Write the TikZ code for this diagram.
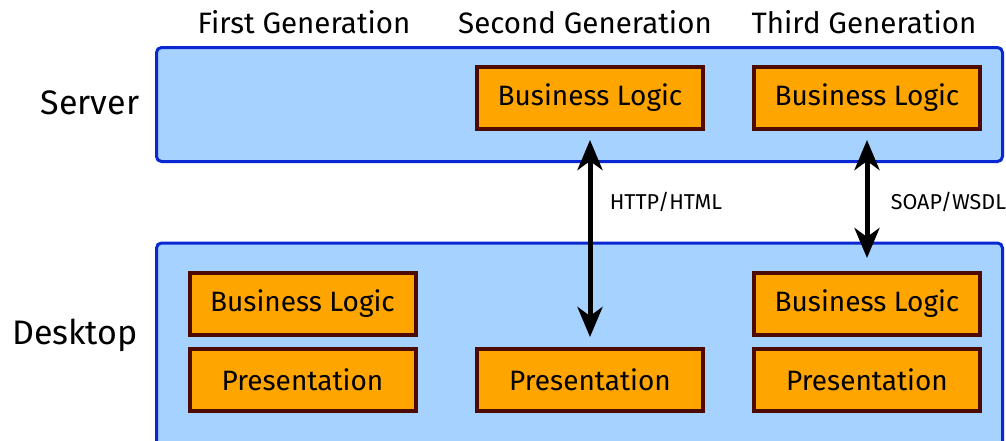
\documentclass[tikz,border=0pt]{standalone}
\usepackage{fontspec}
\setmainfont{Fira Sans}
\usetikzlibrary{arrows.meta, positioning}
\definecolor{layerfill}{HTML}{A6D2FF}
\definecolor{layerdraw}{HTML}{0A28D2}
\definecolor{blockfill}{HTML}{FFA500}
\definecolor{blockdraw}{HTML}{4D0A00}
\tikzstyle{layer} = [rectangle, rounded corners=5pt, line width=3pt, draw=layerdraw, fill=layerfill, minimum width=846pt]
\tikzstyle{block} = [rectangle, line width=4pt, draw=blockdraw, fill=blockfill, minimum width=226pt, minimum height=62pt, font=\fontsize{28}{32}\selectfont]
\tikzstyle{title} = [font=\fontsize{29.5}{34}\selectfont]
\tikzstyle{side} = [font=\fontsize{34}{40}\selectfont]
\tikzstyle{proto} = [font=\fontsize{21.5}{26}\selectfont, anchor=west]
\tikzstyle{arrow} = [line width=5pt, {Stealth[length=30pt,width=25pt,inset=9pt]}-{Stealth[length=30pt,width=25pt,inset=9pt]}]

\begin{document}
\begin{tikzpicture}[x=1pt, y=1pt]
		\useasboundingbox (0,0) rectangle (1006,-440);
		\clip (0,0) rectangle (1006,-440);
		% layers
		\node (Server) [layer, minimum height=114pt] at (579.5,-104.5) {};
		\node (Desktop) [layer, minimum height=240pt] at (579.5,-363) {};
		\node (ServerLabel) [side] at (90,-103) {Server};
		\node (DesktopLabel) [side] at (75,-335) {Desktop};
		% generations
		\node (FirstGen) [title] at (304,-22) {First Generation};
		\node (SecondGen) [title] at (585,-22) {Second Generation};
		\node (ThirdGen) [title] at (864,-22) {Third Generation};
		% server blocks
		\node (ServerLogicTwo) [block] at (590,-98) {Business Logic};
		\node (ServerLogicThree) [block] at (867,-98) {Business Logic};
		% desktop blocks
		\node (DesktopLogicOne) [block] at (302.5,-304) {Business Logic};
		\node (DesktopPresentationOne) [block, below = 10pt of DesktopLogicOne] {Presentation};
		\node (DesktopPresentationTwo) [block] at (590,-380) {Presentation};
		\node (DesktopLogicThree) [block] at (867,-304) {Business Logic};
		\node (DesktopPresentationThree) [block, below = 10pt of DesktopLogicThree] {Presentation};
		% calls
		\draw [arrow, shorten <=9pt, shorten >=10pt] (ServerLogicTwo.south) -- node[proto, pos=0.33, xshift=14pt]{HTTP/HTML} (DesktopPresentationTwo.north);
		\draw [arrow, shorten <=9pt, shorten >=13pt] (ServerLogicThree.south) -- node[proto, pos=0.51, xshift=18pt]{SOAP/WSDL} (DesktopLogicThree.north);
\end{tikzpicture}
\end{document}
